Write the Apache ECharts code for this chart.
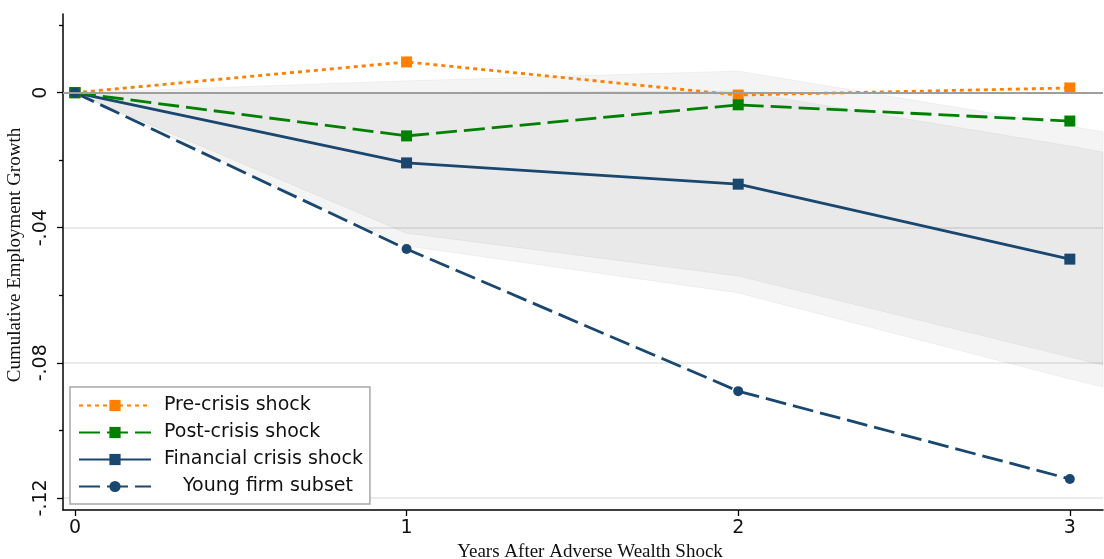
<!DOCTYPE html>
<html>
<head>
<meta charset="utf-8">
<script src="https://cdn.jsdelivr.net/npm/echarts@6/dist/echarts.min.js"></script>
<style>
  html, body { margin: 0; padding: 0; background: #fff; }
  #chart { width: 1104px; height: 559px; }
</style>
</head>
<body>
<div id="chart"></div>
<script>
// Years after the shock
const years = [0, 1, 2, 3];

// Cumulative employment growth by shock timing
const preCrisis = [0, 0.0091, -0.0007, 0.0014];
const postCrisis = [0, -0.0128, -0.0036, -0.0084];
const financialCrisis = [0, -0.0208, -0.0271, -0.0493];
const youngFirm = [0, -0.0463, -0.0884, -0.1144];

// Confidence bands around the financial-crisis estimate
const bandYears = [0, 1, 2, 3, 3.1];
const innerUpper = [0, 0, 0.0005, -0.0158, -0.0176];
const innerLower = [0, -0.0416, -0.0543, -0.0783, -0.0807];
const outerUpper = [0, 0.0035, 0.0064, -0.0099, -0.0116];
const outerLower = [0, -0.0454, -0.0593, -0.0848, -0.0872];

// Axis ticks
const yTicks = [0, -0.04, -0.08, -0.12];
const yTickLabels = ['0', '-.04', '-.08', '-.12'];
const yMinorTicks = [0.02, -0.02, -0.06, -0.10];
const xTicks = [0, 1, 2, 3];
const xTickLabels = ['0', '1', '2', '3'];

const names = ['Pre-crisis shock', 'Post-crisis shock', 'Financial crisis shock', 'Young firm subset'];

const X_MIN = -0.036, X_MAX = 3.1;
const Y_MIN = -0.1236, Y_MAX = 0.0233;

const SANS = 'DejaVu Sans';
const SERIF = 'Liberation Serif';

function bandSeries(upper, lower, extra) {
  return Object.assign({
    type: 'custom',
    silent: true,
    clip: false,
    z: 1,
    data: bandYears.map((x, i) => [x, lower[i], upper[i]]),
    encode: { x: 0, y: [1, 2] },
    renderItem: (params, api) => {
      if (params.dataIndex !== 0) return null;
      const top = bandYears.map((x, i) => api.coord([x, upper[i]]));
      const bottom = bandYears.map((x, i) => api.coord([x, lower[i]])).reverse();
      return {
        type: 'polygon',
        shape: { points: top.concat(bottom) },
        style: { fill: 'rgba(0,0,0,0.045)', stroke: 'rgba(0,0,0,0.045)', lineWidth: 1 }
      };
    }
  }, extra || {});
}

function lineSeries(name, values, color, dash, symbol, size) {
  return {
    type: 'line',
    name: name,
    data: years.map((x, i) => [x, values[i]]),
    symbol: symbol,
    symbolSize: size,
    showSymbol: true,
    z: 3,
    itemStyle: { color: color },
    lineStyle: { color: color, width: 2.8, type: dash },
    emphasis: { disabled: true }
  };
}

const chart = echarts.init(document.getElementById('chart'), null, { renderer: 'canvas' });

chart.setOption({
  animation: false,
  backgroundColor: '#fff',
  grid: { left: 63, right: 1, top: 14, bottom: 49, containLabel: false, outerBoundsMode: 'none' },
  xAxis: {
    type: 'value',
    min: X_MIN,
    max: X_MAX,
    name: 'Years After Adverse Wealth Shock',
    nameLocation: 'middle',
    nameGap: 33,
    nameTextStyle: { fontFamily: SERIF, fontSize: 19, color: '#111', padding: [0, 0, 0, 14] },
    axisLine: { show: true, onZero: false, lineStyle: { color: '#000', width: 1.5 } },
    axisTick: { show: true, length: 6, customValues: xTicks, lineStyle: { color: '#000', width: 1.3 } },
    axisLabel: {
      customValues: xTicks,
      margin: 9,
      fontFamily: SANS, fontSize: 19, color: '#111',
      formatter: v => xTickLabels[xTicks.indexOf(v)]
    },
    splitLine: { show: false }
  },
  yAxis: [
    {
      type: 'value',
      min: Y_MIN,
      max: Y_MAX,
      position: 'left',
      name: 'Cumulative Employment Growth',
      nameLocation: 'middle',
      nameRotate: 90,
      nameGap: 31,
      nameTextStyle: { fontFamily: SERIF, fontSize: 19, color: '#111', padding: [0, 0, 0, 14] },
      axisLine: { show: true, onZero: false, lineStyle: { color: '#000', width: 1.5 } },
      axisTick: { show: true, length: 6, customValues: yTicks, lineStyle: { color: '#000', width: 1.3 } },
      axisLabel: {
        customValues: yTicks,
        rotate: 90,
        margin: 12,
        fontFamily: SANS, fontSize: 19, color: '#111',
        formatter: v => {
          const i = yTicks.findIndex(t => Math.abs(t - v) < 1e-9);
          return i >= 0 ? yTickLabels[i] : '';
        }
      },
      splitLine: { show: true, lineStyle: { color: '#e4e4e4', width: 1.5 } }
    },
    {
      // minor ticks between labelled values
      type: 'value',
      min: Y_MIN,
      max: Y_MAX,
      position: 'left',
      axisLine: { show: false, onZero: false },
      axisTick: { show: true, length: 4, customValues: yMinorTicks, lineStyle: { color: '#000', width: 1.3 } },
      axisLabel: { show: false, customValues: yMinorTicks },
      splitLine: { show: false }
    }
  ],
  legend: {
    orient: 'vertical',
    left: 70,
    top: 387,
    data: names,
    selectedMode: false,
    itemWidth: 72,
    itemHeight: 14,
    itemGap: 8,
    padding: [9, 7, 8, 8],
    backgroundColor: '#fff',
    borderColor: '#a8a8a8',
    borderWidth: 1.5,
    borderRadius: 0,
    formatter: name => (name === 'Young firm subset' ? '{y|' + name + '}' : '{a|' + name + '}'),
    textStyle: {
      fontFamily: SANS, fontSize: 19, color: '#111',
      rich: {
        a: { fontFamily: SANS, fontSize: 19, color: '#111', padding: [0, 0, 0, 8] },
        y: { fontFamily: SANS, fontSize: 19, color: '#111', padding: [0, 0, 0, 27] }
      }
    }
  },
  series: [
    bandSeries(outerUpper, outerLower, {
      markLine: {
        silent: true,
        symbol: 'none',
        label: { show: false },
        lineStyle: { color: '#9e9e9e', width: 2, type: 'solid' },
        data: [{ yAxis: 0 }]
      }
    }),
    bandSeries(innerUpper, innerLower),
    lineSeries(names[0], preCrisis, '#ff8000', [4, 4], 'rect', 11),
    lineSeries(names[2], financialCrisis, '#1a476f', 'solid', 'rect', 11),
    lineSeries(names[1], postCrisis, '#008000', [21, 7], 'rect', 11),
    lineSeries(names[3], youngFirm, '#1a476f', [21, 7], 'circle', 10)
  ]
});
</script>
</body>
</html>
